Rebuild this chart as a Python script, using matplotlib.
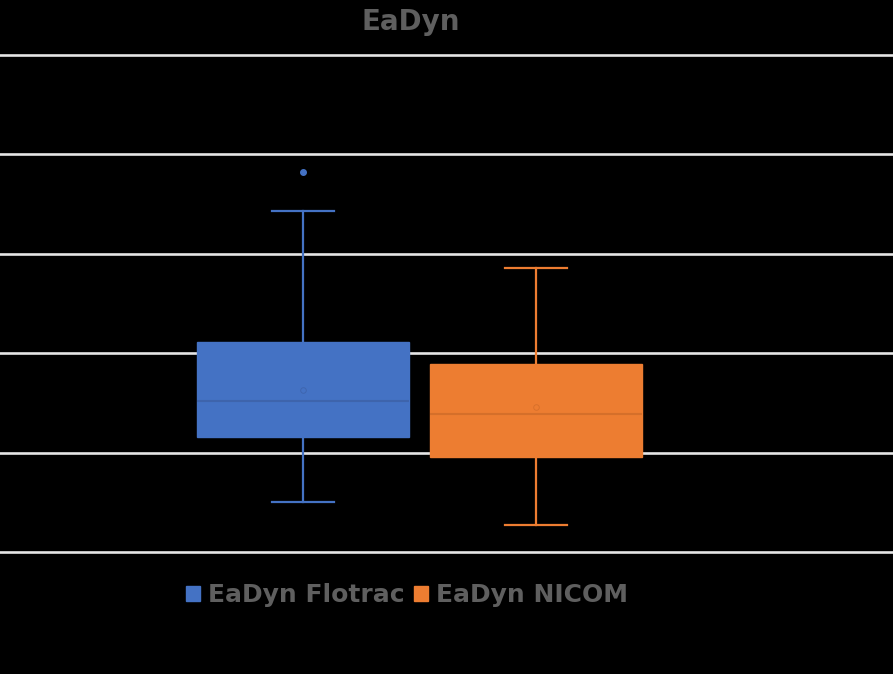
import numpy as np, matplotlib; matplotlib.use("Agg")
import matplotlib.pyplot as plt
from matplotlib.patches import Patch

# values (no axis labels shown, arbitrary units)
labels = ["EaDyn Flotrac", "EaDyn NICOM"]
colors = ["#4472C4", "#ED7D31"]
med_colors = ["#3E64AC", "#D56F2A"]
q1 = [0.577, 0.479]
med = [0.761, 0.693]
q3 = [1.058, 0.946]
mean = [0.815, 0.731]
whislo = [0.25, 0.136]
whishi = [1.714, 1.427]
fliers = [[1.913], []]
grid_vals = [0, 0.5, 1.0, 1.5, 2.0, 2.5]

W, H = 893, 674
fig = plt.figure(figsize=(W/100, H/100), dpi=100, facecolor="black")
ax = fig.add_axes([0, (674-562)/674, 1, 517/674], facecolor="black")

stats = [dict(label=l, q1=a, med=m, q3=b, mean=mu, whislo=lo, whishi=hi, fliers=f)
         for l, a, m, b, mu, lo, hi, f in zip(labels, q1, med, q3, mean, whislo, whishi, fliers)]

for i, s in enumerate(stats):
    c = colors[i]
    ax.bxp([s], positions=[i+1], widths=0.91, patch_artist=True, showmeans=True,
           boxprops=dict(facecolor=c, edgecolor=c, lw=1),
           medianprops=dict(color=med_colors[i], lw=1.5),
           whiskerprops=dict(color=c, lw=1.6), capprops=dict(color=c, lw=1.6),
           capwidths=0.27,
           meanprops=dict(marker="o", markersize=4, markerfacecolor=c,
                          markeredgecolor=med_colors[i], markeredgewidth=0.6),
           flierprops=dict(marker="o", markersize=4, markerfacecolor=c, markeredgecolor=c),
           zorder=3)

ax.set_xlim(1-303/233, 1+(893-303)/233)
ax.set_ylim(-0.05, 2.55)
for g in grid_vals:
    ax.axhline(g, color="#e6e6e6", lw=1.9, zorder=1)
ax.set_xticks([]); ax.set_yticks([])
for sp in ax.spines.values(): sp.set_visible(False)

fig.text(411/W, 1-22/H, "EaDyn", color="#5f5f5f", fontsize=20, fontweight="bold",
         ha="center", va="center")

handles = [Patch(facecolor=c, edgecolor=c) for c in colors]
leg = fig.legend(handles, labels, loc="center", bbox_to_anchor=(407/W, 1-595/H), ncol=2,
                 frameon=False, handlelength=0.55, handleheight=0.55, handletextpad=0.3,
                 columnspacing=0.4, prop=dict(size=18, weight="bold"))
for t in leg.get_texts(): t.set_color("#5f5f5f")

fig.savefig("out.png", dpi=100, facecolor="black")
